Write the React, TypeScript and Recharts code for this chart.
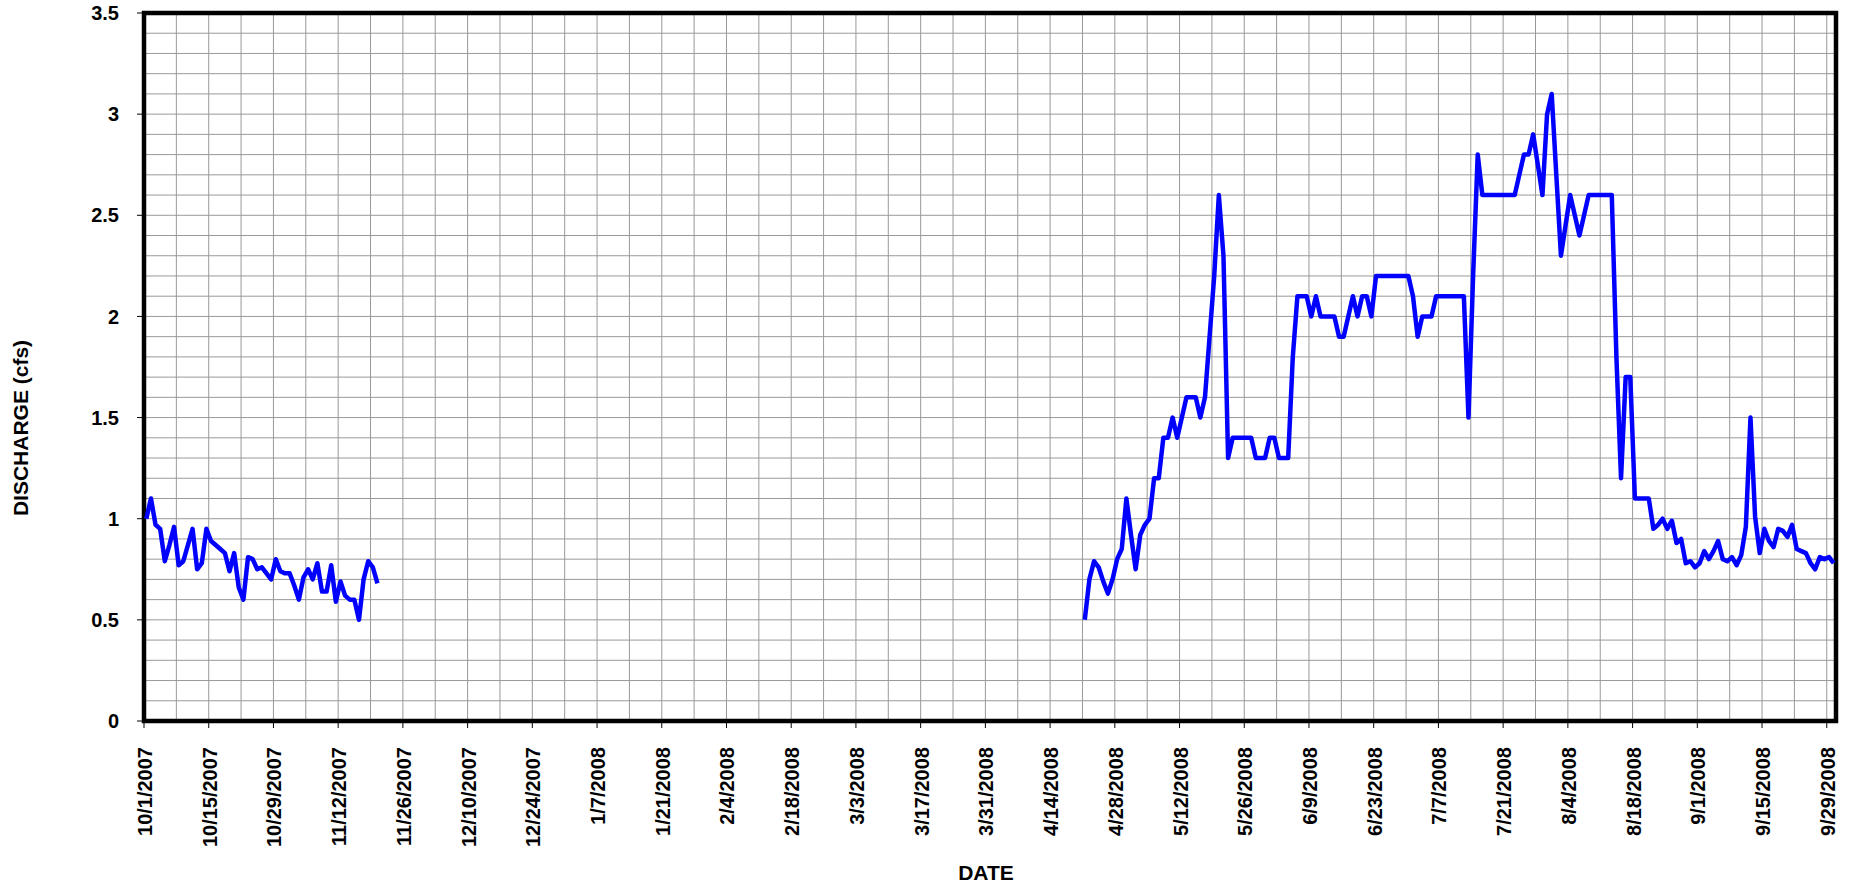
import React from "react";
import { LineChart, Line, XAxis, YAxis, CartesianGrid, ReferenceArea } from "recharts";

// daily discharge, cfs
const tickDates = [
  "10/1/2007", "10/15/2007", "10/29/2007", "11/12/2007", "11/26/2007", "12/10/2007",
  "12/24/2007", "1/7/2008", "1/21/2008", "2/4/2008", "2/18/2008", "3/3/2008",
  "3/17/2008", "3/31/2008", "4/14/2008", "4/28/2008", "5/12/2008", "5/26/2008",
  "6/9/2008", "6/23/2008", "7/7/2008", "7/21/2008", "8/4/2008", "8/18/2008",
  "9/1/2008", "9/15/2008", "9/29/2008",
];
const yTicks = [0, 0.5, 1, 1.5, 2, 2.5, 3, 3.5];

// 10/1/2007 - 11/20/2007
const fallStartDay = 0;
const fallFlow = [
  1.0, 1.1, 0.97, 0.95, 0.79, 0.87, 0.96, 0.77, 0.79, 0.87,
  0.95, 0.75, 0.78, 0.95, 0.89, 0.87, 0.85, 0.83, 0.74, 0.83,
  0.66, 0.6, 0.81, 0.8, 0.75, 0.76, 0.73, 0.7, 0.8, 0.74,
  0.73, 0.73, 0.67, 0.6, 0.71, 0.75, 0.7, 0.78, 0.64, 0.64,
  0.77, 0.59, 0.69, 0.62, 0.6, 0.6, 0.5, 0.7, 0.79, 0.76,
  0.68,
];

// 4/21/2008 - 9/30/2008
const summerStartDay = 203;
const summerFlow = [
  0.5, 0.7, 0.79, 0.76, 0.69, 0.63, 0.7, 0.8, 0.85, 1.1,
  0.92, 0.75, 0.92, 0.97, 1.0, 1.2, 1.2, 1.4, 1.4, 1.5,
  1.4, 1.5, 1.6, 1.6, 1.6, 1.5, 1.6, 1.9, 2.2, 2.6,
  2.3, 1.3, 1.4, 1.4, 1.4, 1.4, 1.4, 1.3, 1.3, 1.3,
  1.4, 1.4, 1.3, 1.3, 1.3, 1.8, 2.1, 2.1, 2.1, 2.0,
  2.1, 2.0, 2.0, 2.0, 2.0, 1.9, 1.9, 2.0, 2.1, 2.0,
  2.1, 2.1, 2.0, 2.2, 2.2, 2.2, 2.2, 2.2, 2.2, 2.2,
  2.2, 2.1, 1.9, 2.0, 2.0, 2.0, 2.1, 2.1, 2.1, 2.1,
  2.1, 2.1, 2.1, 1.5, 2.2, 2.8, 2.6, 2.6, 2.6, 2.6,
  2.6, 2.6, 2.6, 2.6, 2.7, 2.8, 2.8, 2.9, 2.75, 2.6,
  3.0, 3.1, 2.7, 2.3, 2.45, 2.6, 2.5, 2.4, 2.5, 2.6,
  2.6, 2.6, 2.6, 2.6, 2.6, 1.8, 1.2, 1.7, 1.7, 1.1,
  1.1, 1.1, 1.1, 0.95, 0.97, 1.0, 0.95, 0.99, 0.88, 0.9,
  0.78, 0.79, 0.76, 0.78, 0.84, 0.8, 0.84, 0.89, 0.8, 0.79,
  0.81, 0.77, 0.82, 0.96, 1.5, 1.01, 0.83, 0.95, 0.89, 0.86,
  0.95, 0.94, 0.91, 0.97, 0.85, 0.84, 0.83, 0.78, 0.75, 0.81,
  0.8, 0.81, 0.78,
];

const DAYS = 366;
const FONT = '"Liberation Sans", Arial, sans-serif';

const data: { day: number; q: number | null }[] = [];
for (let d = 0; d < DAYS; d++) {
  let q: number | null = null;
  if (d - fallStartDay >= 0 && d - fallStartDay < fallFlow.length) q = fallFlow[d - fallStartDay];
  if (d - summerStartDay >= 0 && d - summerStartDay < summerFlow.length) q = summerFlow[d - summerStartDay];
  // excel date axis puts each day in the middle of its slot
  data.push({ day: d + 0.5, q });
}

const xTicks = tickDates.map((_, i) => i * 14);
const weekLines: number[] = [];
for (let d = 0; d <= DAYS; d += 7) weekLines.push(d);
const tenthLines: number[] = [];
for (let i = 0; i <= 35; i++) tenthLines.push(i / 10);

function DateTick(props: any) {
  const { x, y, payload } = props;
  const label = tickDates[Math.round(payload.value / 14)];
  return (
    <text
      x={0}
      y={0}
      transform={`translate(${x + 8},${y}) rotate(-90)`}
      textAnchor="end"
      fontSize={20}
      fontWeight="bold"
      fontFamily={FONT}
      fill="#000"
    >
      {label}
    </text>
  );
}

const yTitle = () => (
  <text
    x={0}
    y={0}
    transform="translate(28,428) rotate(-90)"
    textAnchor="middle"
    fontSize={21}
    fontWeight="bold"
    fontFamily={FONT}
    fill="#000"
  >
    DISCHARGE (cfs)
  </text>
);

export default function App() {
  return (
    <div style={{ position: "absolute", left: 0, top: 0, background: "#fff" }}>
      <LineChart
        width={1853}
        height={888}
        data={data}
        margin={{ top: 13, right: 17, left: 1, bottom: 0 }}
      >
        <CartesianGrid
          stroke="#999"
          strokeWidth={1}
          horizontalValues={tenthLines}
          verticalValues={weekLines}
        />
        <XAxis
          type="number"
          dataKey="day"
          domain={[0, DAYS]}
          ticks={xTicks}
          interval={0}
          height={167}
          axisLine={false}
          tickSize={7}
          tickMargin={19}
          tickLine={{ stroke: "#000" }}
          tick={<DateTick />}
          label={{
            value: "DATE",
            position: "insideBottom",
            offset: 8,
            dx: -4,
            fill: "#000",
            fontSize: 21,
            fontWeight: "bold",
            fontFamily: FONT,
          }}
        />
        <YAxis
          type="number"
          domain={[0, 3.5]}
          ticks={yTicks}
          interval={0}
          width={143}
          axisLine={false}
          tickSize={7}
          tickMargin={18}
          tickLine={{ stroke: "#000" }}
          tick={{ fill: "#000", fontSize: 20, fontWeight: "bold", fontFamily: FONT }}
          label={yTitle}
        />
        <Line
          type="linear"
          dataKey="q"
          stroke="#0000FF"
          strokeWidth={4.5}
          strokeLinejoin="round"
          dot={false}
          activeDot={false}
          connectNulls={false}
          isAnimationActive={false}
        />
        <ReferenceArea
          x1={0}
          x2={DAYS}
          y1={0}
          y2={3.5}
          fill="none"
          stroke="#000"
          strokeWidth={4.5}
        />
      </LineChart>
    </div>
  );
}
